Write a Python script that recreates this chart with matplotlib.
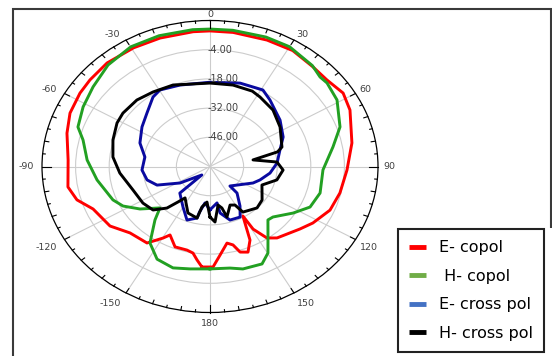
import numpy as np
import matplotlib.pyplot as plt
from matplotlib.lines import Line2D
from matplotlib.patches import Rectangle

# radiation pattern samples: angle in degrees (-180..180), level in dB
e_co_ang = [-176.0, -173.1, -170.3, -166.5, -159.3, -153.1, -150.3, -144.4, -133.7, -124.4,
            -112.7, -106.1, -99.4, -87.0, -75.0, -66.3, -57.0, -50.3, -40.8, -29.2,
            -18.6, -6.2, 0.0, 8.5, 21.4, 31.8, 41.9, 49.6, 57.6, 65.1,
            79.2, 91.7, 103.2, 112.7, 122.3, 128.6, 140.8, 145.3, 149.1, 150.0,
            154.7, 158.9, 163.0, 165.7, 169.1, 174.3, 178.5]
e_co_db = [-11.7, -14.9, -17.9, -18.8, -18.8, -23.2, -20.5, -14.9, -13.9, -9.5,
           -7.2, -2.3, 0.0, -0.8, 1.7, 3.7, 4.6, 5.0, 5.6, 5.2,
           5.0, 5.0, 5.0, 5.0, 5.1, 5.4, 4.2, 4.0, 5.7, 4.3,
           0.2, -2.9, -4.4, -5.8, -9.3, -12.0, -15.8, -18.3, -25.0, -32.6,
           -21.0, -16.0, -17.1, -21.2, -22.6, -17.4, -11.8]

h_co_ang = [-180.0, -170.4, -162.4, -153.6, -145.7, -138.2, -133.6, -124.9, -117.6, -111.6,
            -97.8, -86.5, -76.5, -71.0, -61.6, -51.9, -41.1, -29.9, -18.7, -6.3,
            0.0, 8.3, 20.6, 30.0, 41.4, 46.9, 50.6, 58.9, 70.7, 79.6,
            92.0, 105.5, 115.0, 122.8, 132.7, 136.7, 144.1, 149.8, 155.1, 164.4,
            170.3]
h_co_db = [-10.9, -10.2, -9.0, -10.4, -15.6, -25.6, -31.2, -24.4, -19.1, -16.5,
           -12.5, -8.7, -5.6, -1.8, 0.1, 1.9, 4.6, 6.2, 6.2, 6.0,
           5.9, 6.0, 6.3, 6.3, 4.5, 2.8, 3.1, 1.8, -2.6, -7.9,
           -12.9, -12.4, -14.0, -18.8, -24.3, -24.8, -18.8, -12.0, -8.5, -9.0,
           -10.6]

e_x_ang = [-180.0, -173.2, -168.7, -167.7, -159.5, -149.8, -135.4, -140.0, -122.3, -112.0,
           -103.8, -93.4, -80.5, -68.9, -56.2, -45.7, -35.5, -29.6, -17.8, 0.0,
           17.4, 31.0, 38.1, 52.7, 65.1, 74.8, 86.6, 97.2, 107.2, 113.8,
           138.4, 138.5, 146.6, 152.6, 162.0, 169.3, 170.5, 176.3]
e_x_db = [-39.2, -42.4, -37.7, -34.7, -32.6, -37.6, -42.1, -54.7, -45.2, -36.2,
          -33.0, -31.6, -32.5, -28.7, -25.9, -23.3, -19.1, -17.8, -19.0, -19.6,
          -18.1, -17.2, -19.5, -23.3, -26.4, -29.8, -32.0, -34.8, -38.2, -40.4,
          -47.5, -43.0, -37.3, -32.7, -33.0, -37.3, -42.3, -40.6]

h_x_ang = [-180.0, -175.8, -170.2, -167.7, -157.6, -145.4, -142.0, -138.0, -131.3, -122.1,
           -109.4, -94.8, -83.6, -72.5, -61.7, -54.8, -43.7, -33.6, -21.5, 0.0,
           13.8, 26.0, 32.0, 44.1, 57.0, 72.7, 76.0, 80.0, 85.6, 93.2,
           103.0, 112.3, 126.5, 135.4, 141.4, 147.9, 150.6, 155.7, 163.7, 166.0,
           169.7, 175.5]
h_x_db = [-35.8, -42.9, -40.3, -34.7, -35.9, -41.7, -38.5, -33.2, -28.4, -27.0,
          -26.0, -22.3, -19.3, -17.6, -16.0, -15.6, -15.9, -17.1, -18.0, -20.0,
          -19.8, -19.8, -20.7, -22.3, -25.2, -28.6, -31.0, -41.8, -32.0, -29.5,
          -31.4, -36.6, -33.0, -32.1, -33.3, -34.2, -38.8, -39.7, -34.8, -39.5,
          -41.2, -33.3]

series_labels = ['E- copol', ' H- copol', 'E- cross pol', 'H- cross pol']
line_colors = ['#ff0000', '#22a022', '#0a0aa0', '#000000']
legend_colors = ['#ff0000', '#70ad47', '#4472c4', '#000000']

ring_values = [-4, -18, -32, -46]
angle_ticks = [0, 30, 60, 90, 120, 150, 180, -150, -120, -90, -60, -30]
r_min, r_max = -60, 10

W, H = 552, 356
fig = plt.figure(figsize=(W / 100, H / 100), dpi=100)

# stretched polar plot (wider than tall)
ax = fig.add_axes([42 / W, 1 - 312.5 / H, 336 / W, 292 / H], projection='polar')
ax.set_aspect('auto')
ax.set_theta_zero_location('N')
ax.set_theta_direction(-1)
ax.set_ylim(r_min, r_max)
ax.set_thetagrids(np.arange(0, 360, 30), labels=[])
ax.set_rgrids(ring_values, labels=[])
ax.grid(True, color='#cccccc', lw=0.8)
ax.spines['polar'].set_color('black')
ax.spines['polar'].set_linewidth(0.9)
ax.tick_params(axis='x', length=0)

all_series = [(e_co_ang, e_co_db), (h_co_ang, h_co_db), (e_x_ang, e_x_db), (h_x_ang, h_x_db)]
for (ang, db), col in zip(all_series, line_colors):
    # close each pattern and keep the angle continuous across +/-180
    th = np.unwrap(np.radians(np.append(ang, ang[0])))
    ax.plot(th, np.append(db, db[0]), color=col, lw=2.1, solid_joinstyle='round')

# tick marks around the outer ring
for deg in range(0, 360, 5):
    if deg % 90 == 0:
        ln = 3.6
    elif deg % 30 == 0:
        ln = 2.4
    elif deg % 10 == 0:
        ln = 1.8
    else:
        ln = 1.1
    t = np.radians(deg)
    ax.plot([t, t], [r_max - ln, r_max], color='black', lw=0.8, clip_on=False)

label_color = '#404040'
for deg in angle_ticks:
    t = np.radians(deg)
    s, c = np.sin(t), np.cos(t)
    dx = 5 * s - (3 if s < -0.1 else 0)
    dy = 5 * c + (1 if c > 0.1 else -6 if c < -0.1 else 0)
    ha = 'left' if s > 0.1 else 'right' if s < -0.1 else 'center'
    ax.annotate(str(deg), xy=(t, r_max), xytext=(dx, dy), textcoords='offset pixels',
                ha=ha, va='center', fontsize=6.8, color=label_color, annotation_clip=False)

for rv in ring_values:
    ax.annotate('%.2f' % rv, xy=(0, rv), xytext=(-2, 0), textcoords='offset pixels',
                ha='left', va='center', fontsize=7, color=label_color)

# outer frame
fig.add_artist(Rectangle((13 / W, -0.05), 538 / W, 1.05 - 9 / H, transform=fig.transFigure,
                         fill=False, edgecolor='#3a3a3a', lw=1.5, zorder=0.5))
fig.add_artist(Rectangle((545 / W, -0.05), 10 / W, 0.05 + (H - 228) / H, transform=fig.transFigure,
                         facecolor='white', edgecolor='none', zorder=0.6))

handles = [Line2D([], [], color=c, lw=3.5, solid_capstyle='butt') for c in legend_colors]
leg = fig.legend(handles, series_labels, loc='upper left', bbox_to_anchor=(398 / W, 1 - 229 / H),
                 borderaxespad=0, frameon=True, fancybox=False, edgecolor='#222222', framealpha=1,
                 fontsize=11.5, handlelength=1.05, handletextpad=0.8, labelspacing=0.85,
                 borderpad=0.7)
leg.get_frame().set_linewidth(1.5)

fig.savefig('out.png', dpi=100)
